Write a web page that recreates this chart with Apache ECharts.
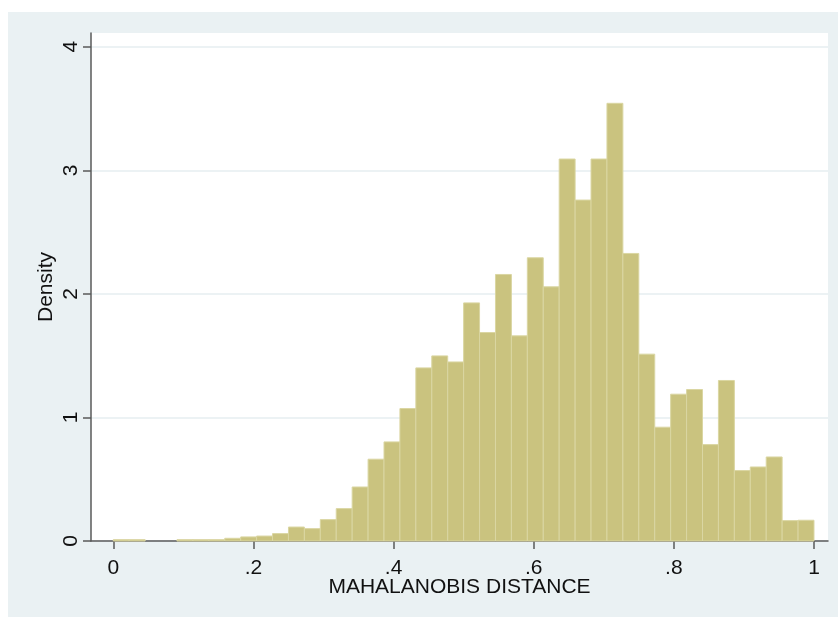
<!DOCTYPE html>
<html lang="en">
<head>
    <meta charset="UTF-8">
    <title>Mahalanobis distance histogram</title>
    <script src="https://cdn.jsdelivr.net/npm/echarts@6/dist/echarts.min.js"></script>
    <style>
        body { margin: 0; background: #fff; }
        #wrap { position: relative; width: 838px; height: 617px; }
        #bg {
            position: absolute; left: 8px; top: 12px;
            width: 830px; height: 605px;
            background: #eaf1f3;
        }
        #hist { position: absolute; left: 0; top: 0; width: 838px; height: 617px; }
    </style>
</head>
<body>
    <div id="wrap">
        <div id="bg"></div>
        <div id="hist"></div>
    </div>

    <script>
        // histogram bins: 44 bins of equal width on [0, 1]
        var binStart = 0;
        var binWidth = 1 / 44;
        var density = [
            0.011, 0.011, 0, 0, 0.011, 0.011, 0.011, 0.022, 0.033, 0.04,
            0.06, 0.113, 0.10, 0.173, 0.262, 0.437, 0.662, 0.802, 1.072, 1.401,
            1.498, 1.449, 1.927, 1.687, 2.157, 1.660, 2.292, 2.057, 3.091, 2.759,
            3.091, 3.542, 2.327, 1.512, 0.921, 1.188, 1.226, 0.780, 1.299, 0.570,
            0.599, 0.680, 0.165, 0.168
        ];
        var xTicks = [0, 0.2, 0.4, 0.6, 0.8, 1];
        var xTickLabels = ['0', '.2', '.4', '.6', '.8', '1'];
        var yTicks = [0, 1, 2, 3, 4];

        var bins = density.map(function (d, i) {
            return [binStart + i * binWidth, binStart + (i + 1) * binWidth, d];
        });

        var chart = echarts.init(document.getElementById('hist'));
        var font = '"Liberation Sans", Arial, sans-serif';

        function renderItem(params, api) {
            var h = api.value(2);
            if (!h) return null;
            var p0 = api.coord([api.value(0), h]);
            var p1 = api.coord([api.value(1), 0]);
            return {
                type: 'rect',
                shape: { x: p0[0], y: p0[1], width: p1[0] - p0[0], height: p1[1] - p0[1] },
                style: { fill: '#cac37f', stroke: '#dad6a2', lineWidth: 1 }
            };
        }

        var option = {
            backgroundColor: 'transparent',
            animation: false,
            grid: {
                left: 91, right: 10, top: 33, bottom: 76,
                show: true, backgroundColor: '#ffffff', borderWidth: 0
            },
            xAxis: {
                type: 'value',
                min: -0.0318,
                max: 1.020,
                name: 'MAHALANOBIS DISTANCE',
                nameLocation: 'middle',
                nameGap: 36,
                nameMoveOverlap: false,
                nameTextStyle: { fontFamily: font, fontSize: 21, color: '#111' },
                axisLine: { show: true, onZero: false, lineStyle: { color: '#5a5a5a', width: 1.5 } },
                axisTick: { show: true, length: 8, customValues: xTicks, lineStyle: { color: '#5a5a5a', width: 1.5 } },
                axisLabel: {
                    customValues: xTicks,
                    margin: 17,
                    fontFamily: font, fontSize: 21, color: '#111',
                    formatter: function (v) {
                        var i = xTicks.findIndex(function (t) { return Math.abs(t - v) < 1e-9; });
                        return i >= 0 ? xTickLabels[i] : '';
                    }
                },
                splitLine: { show: false }
            },
            yAxis: {
                type: 'value',
                min: 0,
                max: 4.111,
                interval: 1,
                name: 'Density',
                nameLocation: 'middle',
                nameRotate: 90,
                nameGap: 34,
                nameMoveOverlap: false,
                nameTextStyle: { fontFamily: font, fontSize: 21, color: '#111' },
                axisLine: { show: true, onZero: false, lineStyle: { color: '#5a5a5a', width: 1.5 } },
                axisTick: { show: true, length: 8, customValues: yTicks, lineStyle: { color: '#5a5a5a', width: 1.5 } },
                axisLabel: {
                    customValues: yTicks,
                    rotate: 90,
                    margin: 9,
                    fontFamily: font, fontSize: 21, color: '#111'
                },
                splitLine: { show: true, lineStyle: { color: '#e6eef1', width: 1.5 } }
            },
            series: [{
                type: 'custom',
                renderItem: renderItem,
                encode: { x: [0, 1], y: 2 },
                data: bins
            }]
        };

        chart.setOption(option);
    </script>
</body>
</html>
